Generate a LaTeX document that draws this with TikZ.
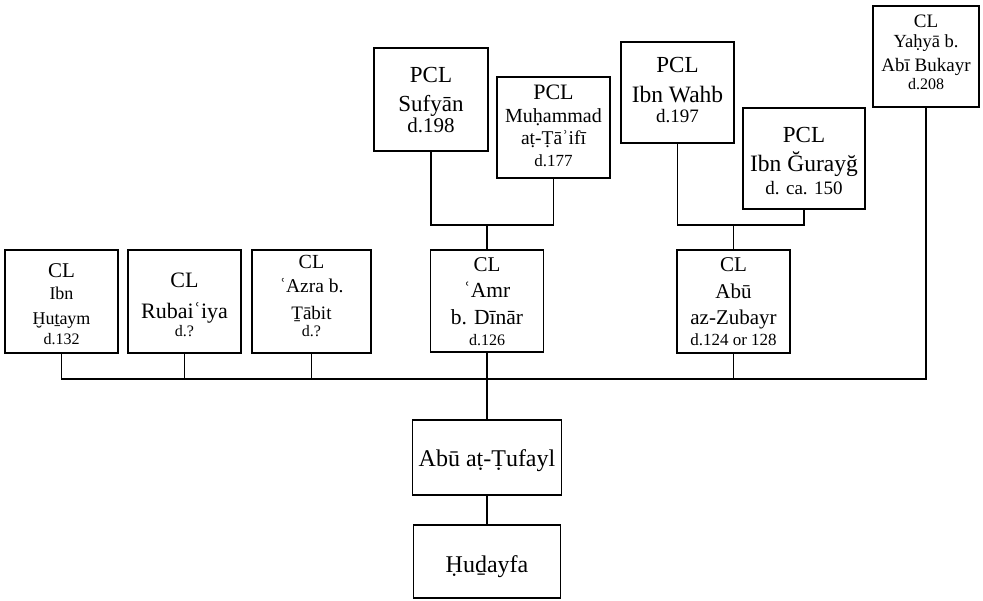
\documentclass[tikz,border=0pt]{standalone}
\usepackage{fontspec}
\setmainfont{Liberation Serif}
\lineskiplimit=-1000pt
\newcommand\lf[2]{{\fontsize{#1}{0pt}\selectfont #2}}
\begin{document}
\begin{tikzpicture}[x=1pt,y=-1pt,
  box/.style={draw, line width=1.9pt, align=center, inner sep=0pt,
    font=\fontsize{18}{0pt}\selectfont},
  link/.style={line width=1.1pt}]
\useasboundingbox (0,0) rectangle (983,601);
% lower row of CL boxes
\node[box, minimum width=113pt, text height=95pt, text depth=8pt] (hut) at (61.5,301.5)
  {\lf{21}{CL}\\[22pt]\lf{18}{Ibn}\\[25pt]\lf{18}{Ḫuṯaym}\\[20pt]\lf{16}{d.132}};
\node[box, minimum width=113pt, text height=87pt, text depth=16pt] (rub) at (184.5,301.5)
  {\lf{22}{CL}\\[31pt]\lf{22}{Rubaiʿiya}\\[18pt]\lf{16}{d.?}};
\node[box, minimum width=119pt, text height=87pt, text depth=16pt] (azr) at (311.5,301.5)
  {\lf{20}{CL}\\[24pt]\lf{19.5}{ʿAzra b.}\\[27pt]\lf{19}{Ṯābit}\\[17pt]\lf{16}{d.?}};
\node[box, minimum width=113pt, text height=96pt, text depth=6pt] (amr) at (487,301)
  {\lf{21}{CL}\\[26pt]\lf{21.5}{ʿAmr}\\[27pt]\lf{21.5}{b. Dīnār}\\[21pt]\lf{16}{d.126}};
\node[box, minimum width=113pt, text height=96pt, text depth=7pt] (zub) at (733.5,301.5)
  {\lf{21}{CL}\\[27pt]\lf{21}{Abū}\\[26pt]\lf{21}{az-Zubayr}\\[21pt]\lf{17}{d.124 or 128}};
% PCL boxes
\node[box, minimum width=114pt, text height=85pt, text depth=18pt] (suf) at (431,99.5)
  {\lf{23}{PCL}\\[29pt]\lf{23}{Sufyān}\\[21pt]\lf{21}{d.198}};
\node[box, minimum width=113pt, text height=90pt, text depth=11pt] (muh) at (553.5,127.5)
  {\lf{22}{PCL}\\[23pt]\lf{20}{Muḥammad}\\[22pt]\lf{19.5}{aṭ-Ṭāʾifī}\\[22pt]\lf{17}{d.177}};
\node[box, minimum width=113pt, text height=81pt, text depth=20pt] (wahb) at (677.5,92.5)
  {\lf{23}{PCL}\\[30pt]\lf{23.5}{Ibn Wahb}\\[20pt]\lf{19}{d.197}};
\node[box, minimum width=122pt, text height=87pt, text depth=14pt] (gur) at (804,158.5)
  {\lf{23}{PCL}\\[29pt]\lf{23.5}{Ibn Ğurayğ}\\[23pt]\lf{19}{d. ca. 150}};
\node[box, minimum width=106pt, text height=84pt, text depth=17pt] (yah) at (926,56.5)
  {\lf{19}{CL}\\[20pt]\lf{18.5}{Yaḥyā b.}\\[24pt]\lf{19}{Abī Bukayr}\\[18pt]\lf{16}{d.208}};
% lower chain
\node[box, minimum width=149pt, text height=47pt, text depth=28pt] (tuf) at (487,457.5)
  {\lf{24}{Abū aṭ-Ṭufayl}};
\node[box, minimum width=147pt, text height=47pt, text depth=26pt] (hud) at (487,561.5)
  {\lf{24}{Ḥuḏayfa}};
% junctions
\coordinate (j1) at (487,225);
\coordinate (j2) at (733.5,225);
\coordinate (bus) at (487,379);
% connectors
\draw[link] (suf.south) |- (j1) -| (muh.south);
\draw[link] (j1) -- (amr.north);
\draw[link] (wahb.south) |- (j2) -| (gur.south);
\draw[link] (j2) -- (zub.north);
\draw[link] (hut.south) |- (yah.south |- bus) -- (yah.south);
\draw[link] (rub.south) -- (rub.south |- bus);
\draw[link] (azr.south) -- (azr.south |- bus);
\draw[link] (amr.south) -- (bus);
\draw[link] (zub.south) -- (zub.south |- bus);
\draw[link] (bus) -- (tuf.north);
\draw[link] (tuf.south) -- (hud.north);
\end{tikzpicture}
\end{document}
